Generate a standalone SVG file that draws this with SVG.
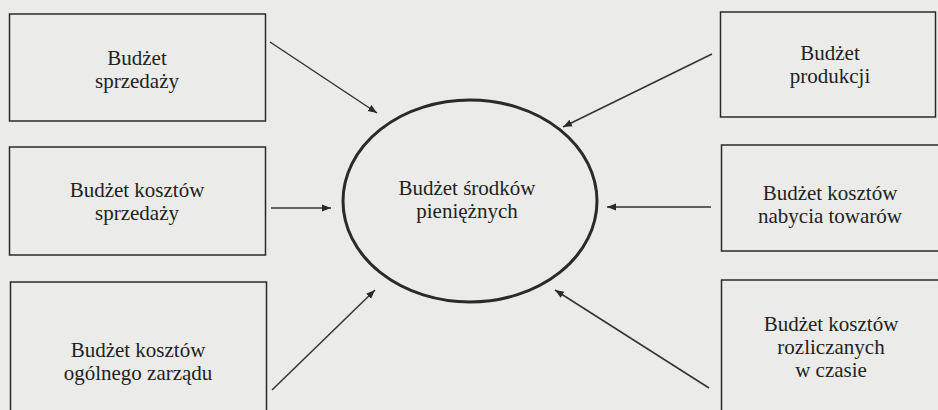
<svg xmlns="http://www.w3.org/2000/svg" width="938" height="410" viewBox="0 0 938 410">
<defs>
<marker id="ah" viewBox="0 0 10 10" refX="10" refY="5" markerWidth="9" markerHeight="9" markerUnits="userSpaceOnUse" orient="auto">
<path d="M0,1 L10,5 L0,9 Z" fill="#2a2a2a"/>
</marker>
<style>
.box{fill:none;stroke:#2a2a2a;stroke-width:1.5}
text{font-family:'Liberation Serif','DejaVu Serif',serif;font-size:21px;fill:#222;text-anchor:middle}
.c{stroke:#333;stroke-width:1.5;fill:none;marker-end:url(#ah)}
</style>
</defs>
<rect width="938" height="410" fill="#ebecea"/>
<g id="sprzedaz">
<rect class="box" x="9.5" y="14" width="256" height="107"/>
<text x="137" y="65">Budżet</text>
<text x="137" y="88">sprzedaży</text>
</g>
<g id="produkcja">
<rect class="box" x="720.5" y="12" width="215" height="105"/>
<text x="830" y="60">Budżet</text>
<text x="830" y="83">produkcji</text>
</g>
<g id="koszty-sprzedazy">
<rect class="box" x="9.5" y="147" width="256" height="108"/>
<text x="137" y="197">Budżet kosztów</text>
<text x="137" y="220">sprzedaży</text>
</g>
<g id="koszty-nabycia">
<rect class="box" x="721.5" y="145" width="218" height="106"/>
<text x="830" y="200">Budżet kosztów</text>
<text x="830" y="223">nabycia towarów</text>
</g>
<g id="koszty-zarzadu">
<rect class="box" x="10.5" y="282" width="256" height="140"/>
<text x="138" y="357">Budżet kosztów</text>
<text x="138" y="380">ogólnego zarządu</text>
</g>
<g id="koszty-rozliczane">
<rect class="box" x="721.5" y="280" width="218" height="140"/>
<text x="831" y="331">Budżet kosztów</text>
<text x="831" y="354">rozliczanych</text>
<text x="831" y="377">w czasie</text>
</g>
<g id="srodki">
<ellipse cx="470" cy="201" rx="127" ry="101" fill="none" stroke="#2a2a2a" stroke-width="3"/>
<text x="467" y="195">Budżet środków</text>
<text x="467" y="218">pieniężnych</text>
</g>
<g id="connectors">
<line class="c" x1="270" y1="42" x2="377" y2="113"/>
<line class="c" x1="712" y1="54" x2="563" y2="127"/>
<line class="c" x1="271" y1="208" x2="331" y2="208"/>
<line class="c" x1="711" y1="207" x2="607" y2="207"/>
<line class="c" x1="272" y1="390" x2="375" y2="290"/>
<line class="c" x1="709" y1="388" x2="555" y2="290"/>
</g>
</svg>
